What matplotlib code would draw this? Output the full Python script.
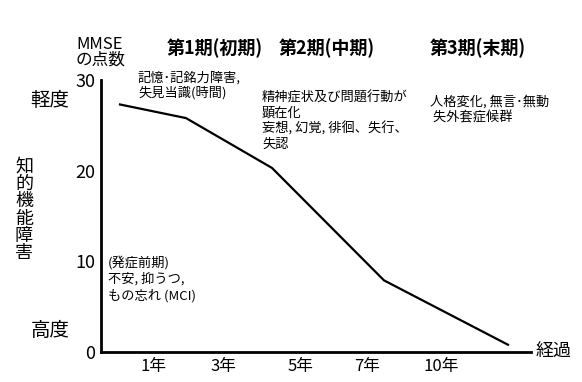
import matplotlib
matplotlib.use("Agg")
import matplotlib.pyplot as plt

plt.rcParams['font.family'] = ['Noto Sans CJK JP', 'DejaVu Sans']

# progression curve (x in arbitrary time units, y = MMSE score)
time_pos = [1.9, 8.5, 17.1, 28.3, 40.7]
mmse = [27.3, 25.8, 20.3, 7.9, 0.8]

tick_pos = [5.2, 12.2, 19.9, 26.6, 34.0]
tick_labels = ["1年", "3年", "5年", "7年", "10年"]
y_ticks = [0, 10, 20, 30]

stages = ["第1期(初期)", "第2期(中期)", "第3期(末期)"]
stage_x = [215, 327, 478]

fig = plt.figure(figsize=(5.82, 3.82), dpi=100)
W, H = 582, 382
ax = fig.add_axes([101 / W, 1 - 352 / H, 430 / W, 272 / H])

ax.plot(time_pos, mmse, color="black", lw=1.6)
ax.set_xlim(0, 43)
ax.set_ylim(0, 30)
ax.set_xticks(tick_pos)
ax.set_xticklabels(tick_labels)
ax.set_yticks(y_ticks)
ax.tick_params(length=0, labelsize=13, pad=4)
ax.tick_params(axis="x", pad=4, labelsize=12)
for s in ["top", "right"]:
    ax.spines[s].set_visible(False)
for s in ["left", "bottom"]:
    ax.spines[s].set_linewidth(2)
ax.patch.set_alpha(0)


def px(x, y, s, **kw):
    fig.text(x / W, 1 - y / H, s, **kw)


px(100, 52, "MMSE\nの点数", fontsize=12, ha="center", va="center", linespacing=0.9)
for sx, st in zip(stage_x, stages):
    px(sx, 48, st, fontsize=13, fontweight="bold", ha="center", va="center")

px(138, 85, "記憶･記銘力障害,\n失見当識(時間)", fontsize=9.5, ha="left", va="center",
   linespacing=1.15)
px(262, 121, "精神症状及び問題行動が\n顕在化\n妄想, 幻覚, 徘徊、失行、\n失認",
   fontsize=9.5, ha="left", va="center", linespacing=1.2)
px(430, 110, "人格変化, 無言･無動\n 失外套症候群", fontsize=9.5, ha="left", va="center",
   linespacing=1.25)
px(108, 279, "(発症前期)\n不安, 抑うつ,\nもの忘れ (MCI)", fontsize=9.5, ha="left", va="center",
   linespacing=1.25)

px(50, 100, "軽度", fontsize=14, ha="center", va="center")
px(50, 331, "高度", fontsize=14, ha="center", va="center")
px(24, 210, "知\n的\n機\n能\n障\n害", fontsize=13, ha="center", va="center",
   linespacing=0.95)
px(554, 352, "経過", fontsize=13, ha="center", va="center")

fig.savefig("out.png", dpi=100, facecolor="white")
